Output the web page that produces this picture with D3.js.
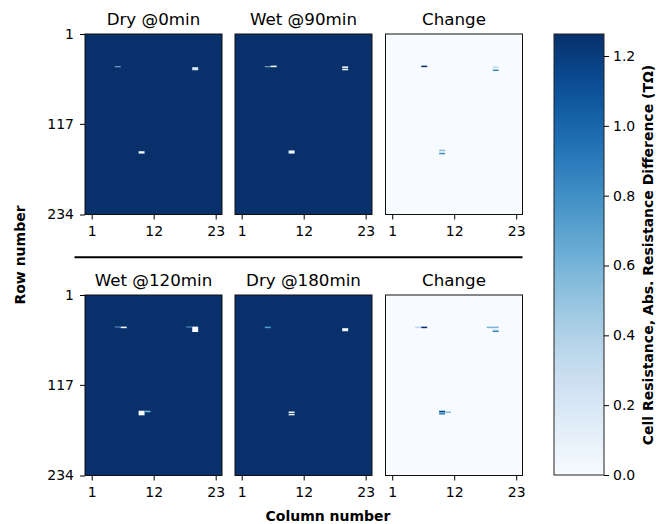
<!DOCTYPE html>
<html>
<head>
<meta charset="utf-8">
<script src="https://cdn.jsdelivr.net/npm/d3@7"></script>
<style>
  body { margin: 0; background: #fff; }
  text { font-family: "DejaVu Sans", sans-serif; }
</style>
</head>
<body>
<svg id="chart" width="658" height="524"></svg>
<script>
// grid size
var nRows = 234, nCols = 23;

var panelTitles = ["Dry @0min", "Wet @90min", "Change", "Wet @120min", "Dry @180min", "Change"];
var rowTicks = [1, 117, 234];
var colTicks = [1, 12, 23];
var cbarTicks = [0, 0.2, 0.4, 0.6, 0.8, 1.0, 1.2];
var vmax = 1.263;

// value of the untouched cells in each panel (TOhm)
var baseValues = [1.26, 1.26, 0, 1.26, 1.26, 0];

// odd cells: [column (0-based), first row, last row, value]
var dry0 = [[5, 42, 42, 0.35], [18, 43, 46, 0.2], [9, 152, 154, 0]];
var wet90 = [[5, 42, 42, 0.35], [6, 41, 42, 0], [18, 42, 43, 0], [18, 45, 46, 0], [9, 151, 154, 0]];
var change1 = [[6, 41, 42, 1.26], [18, 42, 43, 0.35], [18, 46, 47, 0.8], [9, 150, 151, 0.55], [9, 154, 155, 0.8]];
var wet120 = [[5, 41, 41, 0.6], [6, 41, 42, 0], [17, 41, 41, 0.6], [18, 41, 47, 0], [9, 150, 155, 0], [10, 150, 151, 0.6]];
var dry180 = [[5, 41, 42, 0.75], [18, 43, 46, 0.05], [9, 151, 152, 0.1], [9, 154, 155, 0.1]];
var change2 = [[5, 41, 42, 0.35], [6, 41, 42, 1.26], [17, 41, 42, 0.6], [18, 41, 42, 0.6], [18, 45, 45, 0.3], [18, 46, 47, 0.85],
               [9, 150, 151, 1.15], [9, 152, 152, 0.7], [10, 151, 152, 0.55], [9, 153, 154, 0.85]];

var panelCells = [dry0, wet90, change1, wet120, dry180, change2];

var svg = d3.select("#chart");

var panelW = 137, panelH = 180.5;
var panelX = [85, 235, 385.5];
var panelY = [34, 295];

var color = d3.scaleSequential(d3.interpolateBlues).domain([0, vmax]);

var xCell = d3.scaleLinear().domain([0, nCols]).range([0, panelW]);
var yCell = d3.scaleLinear().domain([0, nRows]).range([0, panelH]);
// tick label positions
var xTick = d3.scaleLinear().domain([-0.19, 24.12]).range([0, panelW]);
var yTick = d3.scaleLinear().domain([1, nRows]).range([0, panelH]);

panelCells.forEach(function(cells, i) {
    var r = Math.floor(i / 3), c = i % 3;
    var g = svg.append("g")
        .attr("transform", "translate(" + panelX[c] + "," + panelY[r] + ")");

    g.append("rect")
        .attr("x", xCell(0)).attr("y", yCell(0))
        .attr("width", xCell(nCols) - xCell(0))
        .attr("height", yCell(nRows) - yCell(0))
        .attr("fill", color(baseValues[i]));

    g.selectAll(".cell")
        .data(cells)
      .enter().append("rect")
        .attr("class", "cell")
        .attr("x", function(d) { return xCell(d[0]); })
        .attr("y", function(d) { return yCell(d[1]); })
        .attr("width", xCell(1) - xCell(0))
        .attr("height", function(d) { return yCell(d[2] + 1) - yCell(d[1]); })
        .attr("fill", function(d) { return color(d[3]); });

    g.append("text")
        .attr("x", panelW / 2)
        .attr("y", -9)
        .attr("text-anchor", "middle")
        .attr("font-size", "16.7px")
        .attr("fill", "#000")
        .text(panelTitles[i]);

    var xAxis = d3.axisBottom(xTick).tickValues(colTicks).tickSize(5).tickPadding(7);
    var xg = g.append("g")
        .attr("transform", "translate(0," + panelH + ")")
        .call(xAxis);
    xg.select(".domain").remove();
    xg.selectAll("text").attr("font-size", "14px").attr("font-family", "DejaVu Sans");
    xg.selectAll("line").attr("stroke-width", 1);

    if (c === 0) {
        var yAxis = d3.axisLeft(yTick).tickValues(rowTicks).tickSize(5).tickPadding(6);
        var yg = g.append("g").call(yAxis);
        yg.select(".domain").remove();
        yg.selectAll("text").attr("font-size", "14px").attr("font-family", "DejaVu Sans");
    }

    g.append("rect")
        .attr("width", panelW).attr("height", panelH)
        .attr("fill", "none")
        .attr("stroke", "#111")
        .attr("stroke-width", 1);
});

// divider between the two rounds
svg.append("line")
    .attr("x1", 74.5).attr("x2", 522.5)
    .attr("y1", 257.3).attr("y2", 257.3)
    .attr("stroke", "#000")
    .attr("stroke-width", 2);

svg.append("text")
    .attr("transform", "translate(25,255) rotate(-90)")
    .attr("text-anchor", "middle")
    .attr("font-size", "14px")
    .attr("font-weight", "bold")
    .text("Row number");

svg.append("text")
    .attr("x", 328).attr("y", 521)
    .attr("text-anchor", "middle")
    .attr("font-size", "14px")
    .attr("font-weight", "bold")
    .text("Column number");

// colour bar
var cbX = 554, cbW = 50, cbTop = 34, cbBottom = 475;
var cbScale = d3.scaleLinear().domain([0, vmax]).range([cbBottom, cbTop]);

var grad = svg.append("defs").append("linearGradient")
    .attr("id", "cbgrad")
    .attr("x1", 0).attr("x2", 0).attr("y1", 1).attr("y2", 0);
d3.range(0, 1.0001, 0.05).forEach(function(t) {
    grad.append("stop")
        .attr("offset", t)
        .attr("stop-color", color(t * vmax));
});

svg.append("rect")
    .attr("x", cbX).attr("y", cbScale(vmax))
    .attr("width", cbW).attr("height", cbScale(0) - cbScale(vmax))
    .attr("fill", "url(#cbgrad)")
    .attr("stroke", "#222")
    .attr("stroke-width", 1);

var cbAxis = d3.axisRight(cbScale).tickValues(cbarTicks).tickSize(5).tickPadding(4).tickFormat(d3.format(".1f"));
var cg = svg.append("g")
    .attr("transform", "translate(" + (cbX + cbW) + ",0)")
    .call(cbAxis);
cg.select(".domain").remove();
cg.selectAll("text").attr("font-size", "14px").attr("font-family", "DejaVu Sans");

svg.append("text")
    .attr("transform", "translate(653,255) rotate(-90)")
    .attr("text-anchor", "middle")
    .attr("font-size", "14px")
    .attr("font-weight", "bold")
    .text("Cell Resistance, Abs. Resistance Difference (TΩ)");
</script>
</body>
</html>
